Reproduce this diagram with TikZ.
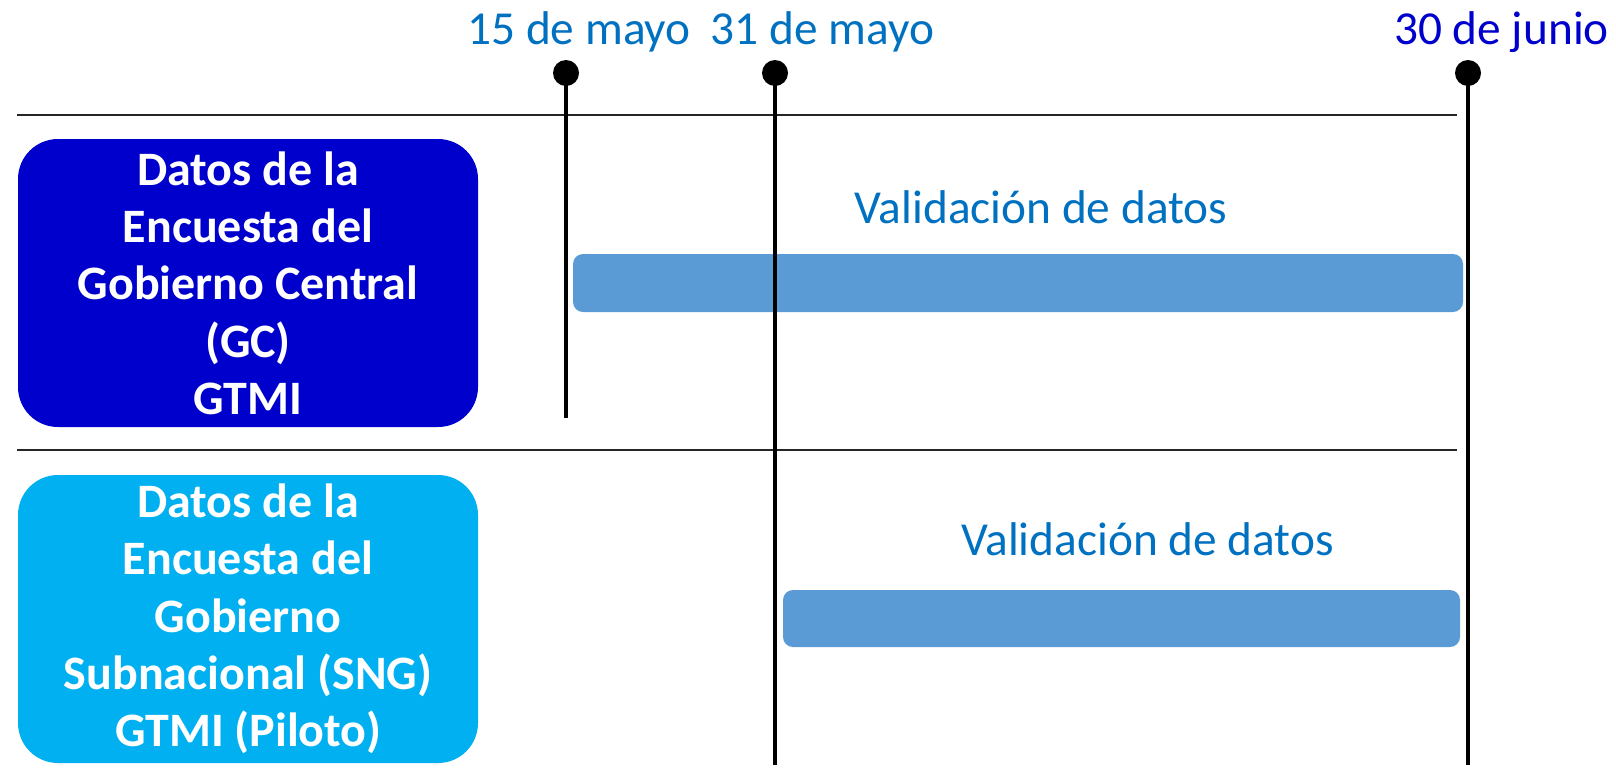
\documentclass[tikz,border=0pt]{standalone}
\usepackage{fontspec}
\setmainfont{Carlito}
\definecolor{datecol}{HTML}{0070C0}
\definecolor{juncol}{HTML}{0000CC}
\definecolor{gcbox}{HTML}{0000CC}
\definecolor{sngbox}{HTML}{00B0F0}
\definecolor{barcol}{HTML}{5B9BD5}
\tikzset{
  datelabel/.style={anchor=base, inner sep=0pt, font=\fontsize{35.5}{42}\selectfont},
  dotnode/.style={circle, fill=black, inner sep=0pt, minimum size=19.5pt},
  vline/.style={line width=3pt},
  hline/.style={line width=1pt, black!85},
  rowbox/.style={rounded corners=30pt, text=white, align=center, inner sep=0pt,
     minimum width=345pt, minimum height=216pt,
     font=\bfseries\fontsize{36}{43}\selectfont},
  bar/.style={fill=barcol, rounded corners=7.5pt, inner sep=0pt},
  tasklabel/.style={anchor=base, inner sep=0pt, text=datecol, font=\fontsize{35.5}{42}\selectfont}
}
\begin{document}
\begin{tikzpicture}[x=0.75pt,y=-0.75pt]
\useasboundingbox (0,0) rectangle (1616,783);
% date labels
\node[datelabel, text=datecol] (d1) at (579,44) {15 de mayo};
\node[datelabel, text=datecol] (d2) at (822.5,44) {31 de mayo};
\node[datelabel, text=juncol] (d3) at (1501.5,44) {30 de junio};
% horizontal separators
\coordinate (h1a) at (17,115);
\coordinate (h1b) at (1457,115);
\coordinate (h2a) at (17,450);
\coordinate (h2b) at (1457,450);
\draw[hline] (h1a) -- (h1b);
\draw[hline] (h2a) -- (h2b);
% row boxes
\node[rowbox, fill=gcbox] (gc) at (248,283) {Datos de la\\Encuesta del\\Gobierno Central\\(GC)\\GTMI};
\node[rowbox, fill=sngbox] (sng) at (248,619) {Datos de la\\Encuesta del\\Gobierno\\Subnacional (SNG)\\GTMI (Piloto)};
% bars
\node[bar, minimum width=667.5pt, minimum height=43.5pt] (bar1) at (1018,283) {};
\node[bar, minimum width=507.75pt, minimum height=42.75pt] (bar2) at (1121.5,618.5) {};
\node[tasklabel] (t1) at (1041,223) {Validación de datos};
\node[tasklabel] (t2) at (1147.5,555) {Validación de datos};
% milestone lines
\node[dotnode] (p1) at (566,73) {};
\node[dotnode] (p2) at (775,73) {};
\node[dotnode] (p3) at (1468,73) {};
\coordinate (e1) at (566,418);
\coordinate (e2) at (775,765);
\coordinate (e3) at (1468,765);
\draw[vline] (p1.center) -- (e1);
\draw[vline] (p2.center) -- (e2);
\draw[vline] (p3.center) -- (e3);
\end{tikzpicture}
\end{document}
